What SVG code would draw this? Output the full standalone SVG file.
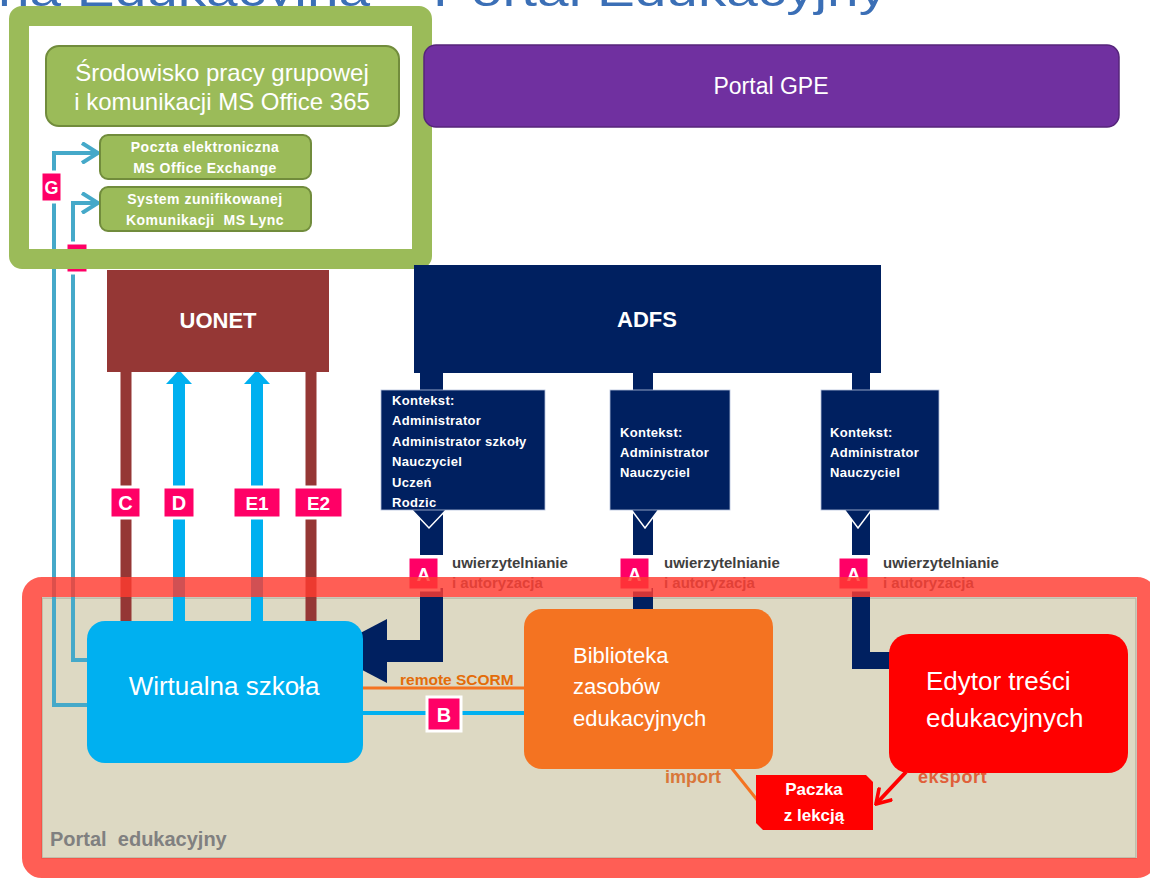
<svg xmlns="http://www.w3.org/2000/svg" width="1150" height="878" viewBox="0 0 1150 878">
<defs>
<style>
text { font-family: "Liberation Sans", Arial, sans-serif; }
.lbl { fill:#ff0066; stroke:#ffffff; stroke-width:3; }
.lt { fill:#ffffff; font-weight:bold; text-anchor:middle; }
.navy { fill:#002060; }
.ctx { fill:#ffffff; font-weight:bold; font-size:13px; letter-spacing:0.3px; }
.auth { font-weight:bold; font-size:15px; fill:#3f3f3f; }
.auth2 { font-weight:bold; font-size:15px; fill:#595959; }
.gbox { fill:#9bbb59; stroke:#718c3c; stroke-width:2; }
.gt { fill:#ffffff; font-weight:bold; font-size:14px; letter-spacing:0.5px; text-anchor:middle; }
.gl { fill:none; stroke:#45a9c9; stroke-width:4; }
.wt { fill:#ffffff; }
</style>
<marker id="chevB" markerUnits="userSpaceOnUse" viewBox="0 0 20 22" markerWidth="20" markerHeight="22" refX="18" refY="11" orient="auto">
<path d="M2,1 L18,11 L2,21" fill="none" stroke="#45a9c9" stroke-width="4"/>
</marker>
<marker id="chevR" markerUnits="userSpaceOnUse" viewBox="0 0 20 22" markerWidth="18" markerHeight="20" refX="18" refY="11" orient="auto">
<path d="M2,1 L18,11 L2,21" fill="none" stroke="#ff0000" stroke-width="4"/>
</marker>
</defs>

<rect x="0" y="0" width="1150" height="878" fill="#ffffff"/>

<!-- title (cut off at top) -->
<text id="title" x="-2" y="6" font-size="44" fill="#3b6fb6" textLength="889" lengthAdjust="spacingAndGlyphs">na Edukacyjna – Portal Edukacyjny</text>

<!-- Portal edukacyjny background -->
<rect id="portal-bg" x="42" y="598" width="1094" height="260" fill="#ddd9c3" stroke="#b8b5a3" stroke-width="1.5"/>

<!-- green container fill -->
<rect x="19" y="16" width="403" height="243" rx="3" fill="#ffffff"/>

<g id="connectors">
  <!-- G lines -->
  <path class="gl" d="M90,705 H54 V153 H98" marker-end="url(#chevB)"/>
  <path class="gl" d="M90,660 H73 V203 H98" marker-end="url(#chevB)"/>
  <!-- UONET lines -->
  <rect x="120.5" y="370" width="11" height="252" fill="#953735"/>
  <rect x="305.5" y="370" width="11" height="252" fill="#953735"/>
  <rect x="173" y="382" width="12" height="240" fill="#00b0f0"/>
  <polygon points="166,384 192,384 179,370" fill="#00b0f0"/>
  <rect x="251" y="382" width="12" height="240" fill="#00b0f0"/>
  <polygon points="244,384 270,384 257,370" fill="#00b0f0"/>
  <!-- ADFS stubs and stems -->
  <rect class="navy" x="420" y="371" width="23" height="22"/>
  <rect class="navy" x="633" y="371" width="20" height="22"/>
  <rect class="navy" x="852" y="371" width="18" height="22"/>
  <rect class="navy" x="420" y="505" width="23" height="50"/>
  <rect class="navy" x="633" y="505" width="20" height="50"/>
  <rect class="navy" x="852" y="505" width="18" height="50"/>
  <!-- left: into Wirtualna szkoła -->
  <rect class="navy" x="420" y="588" width="23" height="74"/>
  <rect class="navy" x="385" y="640" width="58" height="22"/>
  <polygon class="navy" points="387,619 387,683 326,651"/>
  <!-- middle: into Biblioteka -->
  <rect class="navy" x="633" y="588" width="20" height="26"/>
  <!-- right: into Edytor -->
  <rect class="navy" x="852" y="588" width="18" height="81"/>
  <rect class="navy" x="852" y="652" width="42" height="17"/>
  <!-- remote SCORM -->
  <line x1="362" y1="688" x2="526" y2="688" stroke="#f47320" stroke-width="3"/>
  <text x="400" y="685" font-size="15.5" font-weight="bold" fill="#e36c09">remote SCORM</text>
  <!-- B -->
  <line x1="362" y1="713" x2="526" y2="713" stroke="#00b0f0" stroke-width="4"/>
  <!-- import -->
  <line x1="730" y1="766" x2="758" y2="801" stroke="#f47320" stroke-width="3"/>
  <text x="665" y="783" font-size="18" font-weight="bold" fill="#d9773a">import</text>
  <text x="918" y="783" font-size="18" font-weight="bold" fill="#e0603a" letter-spacing="0.6">eksport</text>
  <!-- eksport arrow -->
  <path d="M906,772 L876,804" fill="none" stroke="#ff0000" stroke-width="4" marker-end="url(#chevR)"/>
</g>

<!-- labels -->
<g id="labels">
  <rect class="lbl" x="66" y="243" width="22" height="30"/>
  <g id="lbl-G"><rect class="lbl" x="41" y="172" width="21" height="30"/><text class="lt" x="51.5" y="194" font-size="18">G</text></g>
  <g id="lbl-C"><rect class="lbl" x="110" y="487" width="31" height="31"/><text class="lt" x="125.5" y="510" font-size="20">C</text></g>
  <g id="lbl-D"><rect class="lbl" x="163" y="487" width="32" height="31"/><text class="lt" x="179" y="510" font-size="20">D</text></g>
  <g id="lbl-E1"><rect class="lbl" x="233" y="487" width="48" height="31"/><text class="lt" x="257" y="510" font-size="19">E1</text></g>
  <g id="lbl-E2"><rect class="lbl" x="294" y="487" width="49" height="31"/><text class="lt" x="318.5" y="510" font-size="19">E2</text></g>
  <g id="lbl-A1"><rect class="lbl" x="408" y="557" width="31" height="33"/><text class="lt" x="423.5" y="581" font-size="19">A</text></g>
  <g id="lbl-A2"><rect class="lbl" x="619" y="557" width="31" height="33"/><text class="lt" x="634.5" y="581" font-size="19">A</text></g>
  <g id="lbl-A3"><rect class="lbl" x="838" y="557" width="31" height="33"/><text class="lt" x="853.5" y="581" font-size="19">A</text></g>
  <g id="lbl-B"><rect class="lbl" x="427" y="697" width="34" height="34"/><text class="lt" x="444" y="722" font-size="20">B</text></g>
  <text class="auth" x="452" y="568">uwierzytelnianie</text>
  <text class="auth2" x="452" y="588">i autoryzacja</text>
  <text class="auth" x="664" y="568">uwierzytelnianie</text>
  <text class="auth2" x="664" y="588">i autoryzacja</text>
  <text class="auth" x="883" y="568">uwierzytelnianie</text>
  <text class="auth2" x="883" y="588">i autoryzacja</text>
</g>

<!-- green container frame -->
<g id="office365">
  <rect x="19" y="16" width="403" height="243" rx="3" fill="none" stroke="#9bbb59" stroke-width="20"/>
  <rect class="gbox" x="46" y="46" width="353" height="80" rx="13"/>
  <text x="222" y="81" font-size="24" fill="#ffffff" text-anchor="middle">Środowisko pracy grupowej</text>
  <text x="222" y="110" font-size="24" fill="#ffffff" text-anchor="middle">i komunikacji MS Office 365</text>
</g>
<g id="exchange">
  <rect class="gbox" x="100" y="135" width="211" height="44" rx="8"/>
  <text class="gt" x="205" y="152">Poczta elektroniczna</text>
  <text class="gt" x="205" y="173">MS Office Exchange</text>
</g>
<g id="lync">
  <rect class="gbox" x="100" y="187" width="211" height="44" rx="8"/>
  <text class="gt" x="205" y="204">System zunifikowanej</text>
  <text class="gt" x="205" y="225" xml:space="preserve">Komunikacji  MS Lync</text>
</g>

<g id="portal-gpe">
  <rect x="424" y="45" width="695" height="82" rx="12" fill="#7030a0" stroke="#55247a" stroke-width="1.5"/>
  <text x="771" y="94" font-size="23" fill="#ffffff" text-anchor="middle">Portal GPE</text>
</g>

<g id="uonet">
  <rect x="107" y="270" width="222" height="102" fill="#953735"/>
  <text x="218" y="328" font-size="22" font-weight="bold" fill="#ffffff" text-anchor="middle">UONET</text>
</g>

<g id="adfs">
  <rect class="navy" x="414" y="265" width="467" height="108"/>
  <text x="647" y="327" font-size="22" font-weight="bold" fill="#ffffff" text-anchor="middle">ADFS</text>
</g>

<g id="ctx1">
  <polygon class="navy" points="410,508 448,508 429,528" stroke="#ffffff" stroke-width="1.5"/>
  <rect class="navy" x="381" y="390" width="164" height="120" stroke="#b4c0dc" stroke-width="0.8"/>
  <text class="ctx" x="392" y="405">Kontekst:</text>
  <text class="ctx" x="392" y="425">Administrator</text>
  <text class="ctx" x="392" y="446">Administrator szkoły</text>
  <text class="ctx" x="392" y="466">Nauczyciel</text>
  <text class="ctx" x="392" y="487">Uczeń</text>
  <text class="ctx" x="392" y="507">Rodzic</text>
</g>
<g id="ctx2">
  <polygon class="navy" points="630,508 660,508 645,528" stroke="#ffffff" stroke-width="1.5"/>
  <rect class="navy" x="610" y="390" width="120" height="120" stroke="#b4c0dc" stroke-width="0.8"/>
  <text class="ctx" x="620" y="437">Kontekst:</text>
  <text class="ctx" x="620" y="457">Administrator</text>
  <text class="ctx" x="620" y="477">Nauczyciel</text>
</g>
<g id="ctx3">
  <polygon class="navy" points="843,508 873,508 858,528" stroke="#ffffff" stroke-width="1.5"/>
  <rect class="navy" x="821" y="390" width="118" height="120" stroke="#b4c0dc" stroke-width="0.8"/>
  <text class="ctx" x="830" y="437">Kontekst:</text>
  <text class="ctx" x="830" y="457">Administrator</text>
  <text class="ctx" x="830" y="477">Nauczyciel</text>
</g>

<g id="wirtualna">
  <rect x="87" y="621" width="276" height="142" rx="18" fill="#00b0f0"/>
  <text x="224" y="695" font-size="26" fill="#ffffff" text-anchor="middle">Wirtualna szkoła</text>
</g>

<g id="biblioteka">
  <rect x="524" y="609" width="249" height="160" rx="18" fill="#f47321"/>
  <text x="573" y="663" font-size="22" fill="#ffffff">Biblioteka</text>
  <text x="573" y="694" font-size="22" fill="#ffffff">zasobów</text>
  <text x="573" y="726" font-size="22" fill="#ffffff">edukacyjnych</text>
</g>

<g id="edytor">
  <rect x="889" y="634" width="239" height="139" rx="20" fill="#ff0000"/>
  <text x="926" y="690" font-size="26" fill="#ffffff">Edytor treści</text>
  <text x="926" y="727" font-size="26" fill="#ffffff">edukacyjnych</text>
</g>

<g id="paczka">
  <polygon points="756,775 866,775 873,782 873,830 763,830 756,823" fill="#ff0000"/>
  <text x="814" y="795" font-size="17" font-weight="bold" fill="#ffffff" text-anchor="middle">Paczka</text>
  <text x="814" y="821" font-size="17" font-weight="bold" fill="#ffffff" text-anchor="middle">z lekcją</text>
</g>

<g id="portal-edukacyjny">
  <rect x="32" y="587" width="1115" height="281" rx="10" fill="none" stroke="#ff3b30" stroke-opacity="0.82" stroke-width="20"/>
  <text x="50" y="846" font-size="20" font-weight="bold" fill="#808080" xml:space="preserve">Portal  edukacyjny</text>
</g>
</svg>
